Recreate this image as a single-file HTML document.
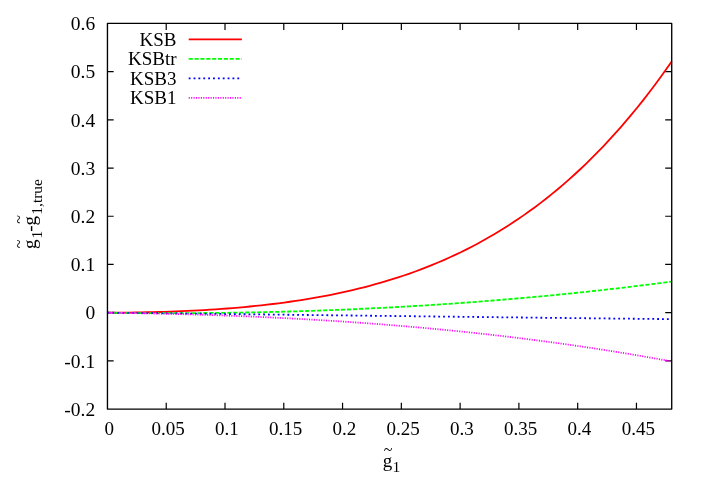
<!DOCTYPE html>
<html><head><meta charset="utf-8"><title>plot</title>
<style>
html,body{margin:0;padding:0;background:#fff;}
body{width:701px;height:491px;overflow:hidden;}
svg{display:block;}
text{font-family:"Liberation Serif",serif;fill:#000;}
</style></head><body>
<div style="will-change:transform;width:701px;height:491px;">
<svg width="701" height="491" viewBox="0 0 701 491">
<rect width="701" height="491" fill="#fff"/>
<path d="M107.45,360.89h6.2M671.72,360.89h-6.5M107.45,312.68h6.2M671.72,312.68h-6.5M107.45,264.47h6.2M671.72,264.47h-6.5M107.45,216.26h6.2M671.72,216.26h-6.5M107.45,168.05h6.2M671.72,168.05h-6.5M107.45,119.84h6.2M671.72,119.84h-6.5M107.45,71.63h6.2M671.72,71.63h-6.5M166.23,409.1v-6.3M166.23,23.42v6.6M225.01,409.1v-6.3M225.01,23.42v6.6M283.78,409.1v-6.3M283.78,23.42v6.6M342.56,409.1v-6.3M342.56,23.42v6.6M401.34,409.1v-6.3M401.34,23.42v6.6M460.12,409.1v-6.3M460.12,23.42v6.6M518.90,409.1v-6.3M518.90,23.42v6.6M577.68,409.1v-6.3M577.68,23.42v6.6M636.45,409.1v-6.3M636.45,23.42v6.6" stroke="#000" stroke-width="1.2" fill="none"/>
<path d="M107.45,312.68 L113.15,312.67 L118.85,312.65 L124.55,312.61 L130.25,312.55 L135.95,312.47 L141.65,312.38 L147.35,312.27 L153.05,312.13 L158.75,311.99 L164.45,311.82 L170.15,311.63 L175.85,311.42 L181.55,311.19 L187.25,310.94 L192.95,310.66 L198.65,310.36 L204.34,310.04 L210.04,309.70 L215.74,309.32 L221.44,308.93 L227.14,308.50 L232.84,308.05 L238.54,307.57 L244.24,307.06 L249.94,306.51 L255.64,305.94 L261.34,305.33 L267.04,304.69 L272.74,304.01 L278.44,303.30 L284.14,302.55 L289.84,301.75 L295.54,300.92 L301.24,300.05 L306.94,299.13 L312.64,298.17 L318.34,297.17 L324.04,296.12 L329.74,295.01 L335.44,293.86 L341.14,292.66 L346.84,291.40 L352.54,290.08 L358.24,288.71 L363.94,287.29 L369.64,285.80 L375.34,284.24 L381.04,282.63 L386.74,280.95 L392.43,279.20 L398.13,277.38 L403.83,275.49 L409.53,273.53 L415.23,271.49 L420.93,269.37 L426.63,267.17 L432.33,264.89 L438.03,262.53 L443.73,260.08 L449.43,257.54 L455.13,254.91 L460.83,252.19 L466.53,249.37 L472.23,246.45 L477.93,243.43 L483.63,240.31 L489.33,237.09 L495.03,233.76 L500.73,230.31 L506.43,226.76 L512.13,223.08 L517.83,219.29 L523.53,215.38 L529.23,211.34 L534.93,207.18 L540.63,202.89 L546.33,198.47 L552.03,193.91 L557.73,189.21 L563.43,184.37 L569.13,179.39 L574.83,174.26 L580.52,168.98 L586.22,163.55 L591.92,157.96 L597.62,152.21 L603.32,146.30 L609.02,140.22 L614.72,133.97 L620.42,127.55 L626.12,120.96 L631.82,114.19 L637.52,107.23 L643.22,100.09 L648.92,92.75 L654.62,85.23 L660.32,77.51 L666.02,69.58 L671.72,61.46" stroke="#ff0000" stroke-width="1.8" fill="none" stroke-linejoin="round"/>
<path d="M107.45,312.68 L113.15,312.76 L118.85,312.83 L124.55,312.89 L130.25,312.95 L135.95,313.00 L141.65,313.04 L147.35,313.07 L153.05,313.10 L158.75,313.12 L164.45,313.13 L170.15,313.14 L175.85,313.14 L181.55,313.13 L187.25,313.11 L192.95,313.09 L198.65,313.05 L204.34,313.01 L210.04,312.97 L215.74,312.91 L221.44,312.85 L227.14,312.78 L232.84,312.70 L238.54,312.62 L244.24,312.52 L249.94,312.42 L255.64,312.31 L261.34,312.20 L267.04,312.07 L272.74,311.94 L278.44,311.80 L284.14,311.65 L289.84,311.50 L295.54,311.33 L301.24,311.16 L306.94,310.98 L312.64,310.79 L318.34,310.60 L324.04,310.39 L329.74,310.18 L335.44,309.96 L341.14,309.73 L346.84,309.49 L352.54,309.25 L358.24,309.00 L363.94,308.73 L369.64,308.46 L375.34,308.19 L381.04,307.90 L386.74,307.61 L392.43,307.30 L398.13,306.99 L403.83,306.67 L409.53,306.34 L415.23,306.00 L420.93,305.66 L426.63,305.30 L432.33,304.94 L438.03,304.57 L443.73,304.19 L449.43,303.80 L455.13,303.40 L460.83,303.00 L466.53,302.58 L472.23,302.16 L477.93,301.73 L483.63,301.28 L489.33,300.83 L495.03,300.38 L500.73,299.91 L506.43,299.43 L512.13,298.94 L517.83,298.45 L523.53,297.95 L529.23,297.43 L534.93,296.91 L540.63,296.38 L546.33,295.84 L552.03,295.29 L557.73,294.73 L563.43,294.16 L569.13,293.59 L574.83,293.00 L580.52,292.41 L586.22,291.80 L591.92,291.19 L597.62,290.56 L603.32,289.93 L609.02,289.29 L614.72,288.64 L620.42,287.98 L626.12,287.31 L631.82,286.63 L637.52,285.94 L643.22,285.24 L648.92,284.53 L654.62,283.81 L660.32,283.08 L666.02,282.35 L671.72,281.60" stroke="#00ff00" stroke-width="1.8" fill="none" stroke-dasharray="4.2 1.79"/>
<path d="M107.45,312.68 L113.15,312.74 L118.85,312.81 L124.55,312.87 L130.25,312.93 L135.95,313.00 L141.65,313.06 L147.35,313.12 L153.05,313.19 L158.75,313.25 L164.45,313.32 L170.15,313.38 L175.85,313.45 L181.55,313.51 L187.25,313.58 L192.95,313.64 L198.65,313.71 L204.34,313.78 L210.04,313.84 L215.74,313.91 L221.44,313.97 L227.14,314.04 L232.84,314.11 L238.54,314.17 L244.24,314.24 L249.94,314.31 L255.64,314.37 L261.34,314.44 L267.04,314.51 L272.74,314.58 L278.44,314.64 L284.14,314.71 L289.84,314.78 L295.54,314.85 L301.24,314.91 L306.94,314.98 L312.64,315.05 L318.34,315.12 L324.04,315.18 L329.74,315.25 L335.44,315.32 L341.14,315.39 L346.84,315.45 L352.54,315.52 L358.24,315.59 L363.94,315.66 L369.64,315.73 L375.34,315.79 L381.04,315.86 L386.74,315.93 L392.43,316.00 L398.13,316.06 L403.83,316.13 L409.53,316.20 L415.23,316.27 L420.93,316.33 L426.63,316.40 L432.33,316.47 L438.03,316.54 L443.73,316.60 L449.43,316.67 L455.13,316.74 L460.83,316.80 L466.53,316.87 L472.23,316.94 L477.93,317.00 L483.63,317.07 L489.33,317.14 L495.03,317.20 L500.73,317.27 L506.43,317.33 L512.13,317.40 L517.83,317.47 L523.53,317.53 L529.23,317.60 L534.93,317.66 L540.63,317.73 L546.33,317.79 L552.03,317.85 L557.73,317.92 L563.43,317.98 L569.13,318.05 L574.83,318.11 L580.52,318.17 L586.22,318.24 L591.92,318.30 L597.62,318.36 L603.32,318.42 L609.02,318.49 L614.72,318.55 L620.42,318.61 L626.12,318.67 L631.82,318.73 L637.52,318.79 L643.22,318.85 L648.92,318.91 L654.62,318.97 L660.32,319.03 L666.02,319.09 L671.72,319.15" stroke="#0000ff" stroke-width="1.8" fill="none" stroke-dasharray="1.85 3.015"/>
<path d="M107.45,312.68 L113.15,312.76 L118.85,312.84 L124.55,312.93 L130.25,313.03 L135.95,313.13 L141.65,313.23 L147.35,313.35 L153.05,313.47 L158.75,313.59 L164.45,313.73 L170.15,313.86 L175.85,314.01 L181.55,314.16 L187.25,314.32 L192.95,314.48 L198.65,314.66 L204.34,314.84 L210.04,315.02 L215.74,315.22 L221.44,315.42 L227.14,315.62 L232.84,315.84 L238.54,316.06 L244.24,316.29 L249.94,316.53 L255.64,316.78 L261.34,317.03 L267.04,317.29 L272.74,317.56 L278.44,317.84 L284.14,318.13 L289.84,318.42 L295.54,318.72 L301.24,319.03 L306.94,319.35 L312.64,319.68 L318.34,320.02 L324.04,320.36 L329.74,320.72 L335.44,321.08 L341.14,321.45 L346.84,321.83 L352.54,322.23 L358.24,322.63 L363.94,323.03 L369.64,323.45 L375.34,323.88 L381.04,324.32 L386.74,324.77 L392.43,325.23 L398.13,325.69 L403.83,326.17 L409.53,326.66 L415.23,327.16 L420.93,327.66 L426.63,328.18 L432.33,328.71 L438.03,329.25 L443.73,329.80 L449.43,330.36 L455.13,330.93 L460.83,331.51 L466.53,332.11 L472.23,332.71 L477.93,333.32 L483.63,333.95 L489.33,334.59 L495.03,335.24 L500.73,335.90 L506.43,336.57 L512.13,337.25 L517.83,337.95 L523.53,338.65 L529.23,339.37 L534.93,340.10 L540.63,340.85 L546.33,341.60 L552.03,342.37 L557.73,343.15 L563.43,343.94 L569.13,344.74 L574.83,345.56 L580.52,346.39 L586.22,347.23 L591.92,348.09 L597.62,348.95 L603.32,349.83 L609.02,350.73 L614.72,351.64 L620.42,352.56 L626.12,353.49 L631.82,354.44 L637.52,355.40 L643.22,356.37 L648.92,357.36 L654.62,358.36 L660.32,359.38 L666.02,360.41 L671.72,361.45" stroke="#ff00ff" stroke-width="1.8" fill="none" stroke-dasharray="1.1 1.33"/>
<rect x="107.45" y="23.42" width="564.27" height="385.68" fill="none" stroke="#000" stroke-width="1.35" stroke-linejoin="round"/>
<text x="95.2" y="415.80" font-size="19.5" text-anchor="end">-0.2</text>
<text x="95.2" y="367.59" font-size="19.5" text-anchor="end">-0.1</text>
<text x="95.2" y="319.38" font-size="19.5" text-anchor="end">0</text>
<text x="95.2" y="271.17" font-size="19.5" text-anchor="end">0.1</text>
<text x="95.2" y="222.96" font-size="19.5" text-anchor="end">0.2</text>
<text x="95.2" y="174.75" font-size="19.5" text-anchor="end">0.3</text>
<text x="95.2" y="126.54" font-size="19.5" text-anchor="end">0.4</text>
<text x="95.2" y="78.33" font-size="19.5" text-anchor="end">0.5</text>
<text x="95.2" y="30.12" font-size="19.5" text-anchor="end">0.6</text>
<text x="109.25" y="434.6" font-size="19" text-anchor="middle">0</text>
<text x="168.03" y="434.6" font-size="19" text-anchor="middle">0.05</text>
<text x="226.81" y="434.6" font-size="19" text-anchor="middle">0.1</text>
<text x="285.58" y="434.6" font-size="19" text-anchor="middle">0.15</text>
<text x="344.36" y="434.6" font-size="19" text-anchor="middle">0.2</text>
<text x="403.14" y="434.6" font-size="19" text-anchor="middle">0.25</text>
<text x="461.92" y="434.6" font-size="19" text-anchor="middle">0.3</text>
<text x="520.70" y="434.6" font-size="19" text-anchor="middle">0.35</text>
<text x="579.48" y="434.6" font-size="19" text-anchor="middle">0.4</text>
<text x="638.25" y="434.6" font-size="19" text-anchor="middle">0.45</text>
<text x="176.5" y="45.80" font-size="19" text-anchor="end">KSB</text>
<path d="M188.7,39.40H241.9" stroke="#ff0000" stroke-width="1.8" fill="none"/>
<text x="176.5" y="65.30" font-size="19" text-anchor="end">KSBtr</text>
<path d="M188.7,58.90H241.9" stroke="#00ff00" stroke-width="1.8" stroke-dasharray="4.1 1.76" fill="none"/>
<text x="176.5" y="84.80" font-size="19" text-anchor="end">KSB3</text>
<path d="M188.7,78.40H241.9" stroke="#0000ff" stroke-width="1.8" stroke-dasharray="1.85 3.015" fill="none"/>
<text x="176.5" y="104.30" font-size="19" text-anchor="end">KSB1</text>
<path d="M188.7,97.90H241.9" stroke="#ff00ff" stroke-width="1.8" stroke-dasharray="1.1 1.33" fill="none"/>
<text x="382.7" y="466.5" font-size="19">g<tspan font-size="15.5" dy="5.6" dx="0.2">1</tspan></text>
<text x="388" y="454.6" font-size="16" text-anchor="middle">~</text>
<g transform="translate(35.75,249.0) rotate(-90)"><text x="0" y="0" font-size="19">g<tspan font-size="15.5" dy="6.2" dx="0.9">1</tspan><tspan dy="-6.2" dx="-0.9" font-size="19">-g</tspan><tspan font-size="15.5" dy="6.2" dx="1.2">1,true</tspan></text><text x="5.0" y="-11.85" font-size="16" text-anchor="middle">~</text><text x="29.6" y="-11.85" font-size="16" text-anchor="middle">~</text></g>
</svg></div></body></html>
